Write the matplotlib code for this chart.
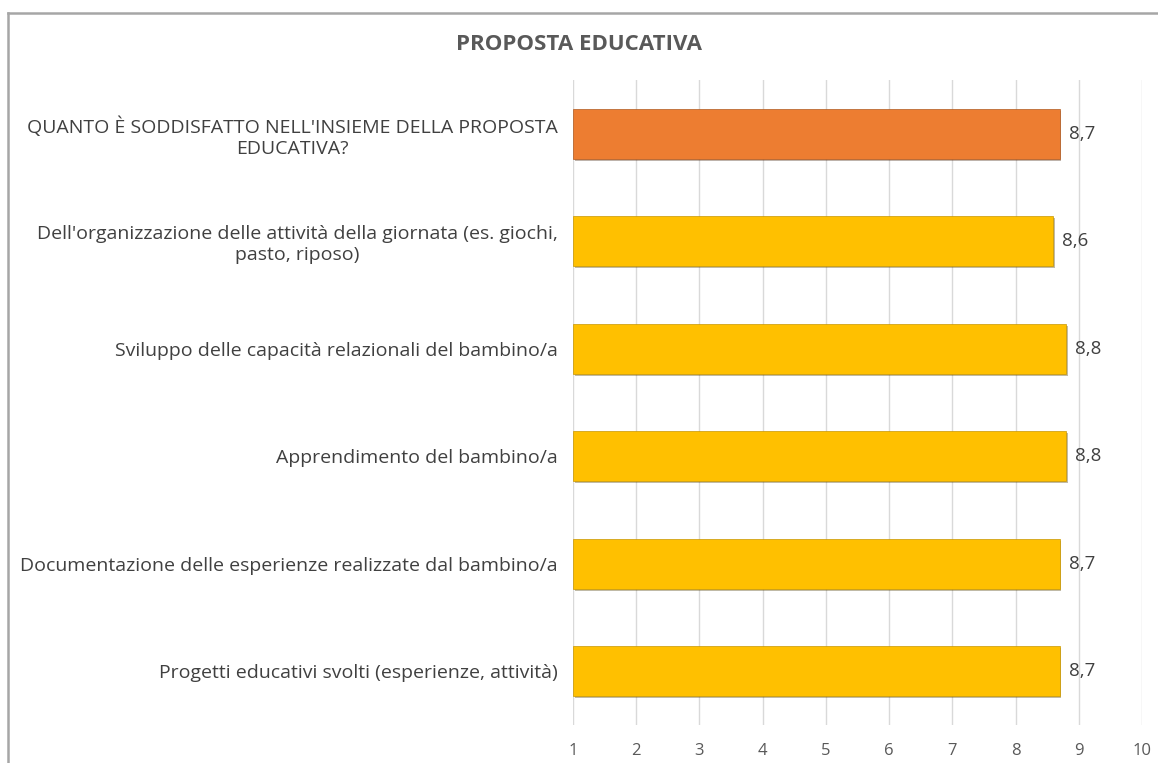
import matplotlib.pyplot as plt
import matplotlib.patheffects as pe
from matplotlib.lines import Line2D

categories = [
    "QUANTO È SODDISFATTO NELL'INSIEME DELLA PROPOSTA\nEDUCATIVA?",
    "Dell'organizzazione delle attività della giornata (es. giochi,\npasto, riposo)",
    "Sviluppo delle capacità relazionali del bambino/a",
    "Apprendimento del bambino/a",
    "Documentazione delle esperienze realizzate dal bambino/a",
    "Progetti educativi svolti (esperienze, attività)",
]
values = [8.7, 8.6, 8.8, 8.8, 8.7, 8.7]
colors = ["#ED7D31", "#FFC000", "#FFC000", "#FFC000", "#FFC000", "#FFC000"]
ticks = list(range(1, 11))

plt.rcParams['font.family'] = ['Open Sans', 'DejaVu Sans']

fig = plt.figure(figsize=(11.58, 7.63), dpi=100)
ax = fig.add_axes([573 / 1158, 1 - 725 / 763, (1142 - 573) / 1158, (725 - 80) / 763])

pos = list(range(len(categories)))
widths = [v - 1 for v in values]
bars = ax.barh(pos, widths, left=1, height=0.465, color=colors, linewidth=0.5, zorder=3)
for b, c in zip(bars, colors):
    b.set_edgecolor("#B05A20" if c == "#ED7D31" else "#C89600")
    b.set_path_effects([pe.SimplePatchShadow(offset=(1.2, -1.5), alpha=0.35), pe.Normal()])

for p, v in zip(pos, values):
    ax.text(v + 0.14, p, f"{v:.1f}".replace(".", ","), va="center", ha="left",
            fontsize=13.5, color="#404040")

ax.set_xlim(1, 10)
ax.set_ylim(len(categories) - 0.5, -0.5)
ax.set_xticks(ticks)
ax.set_xticklabels([str(t) for t in ticks], fontsize=12, color="#595959")
ax.set_yticks(pos)
ax.set_yticklabels(categories, fontsize=14, color="#404040", multialignment="center")
ax.tick_params(axis="both", length=0)
ax.tick_params(axis="y", pad=11)
ax.tick_params(axis="x", pad=13)
ax.grid(axis="x", color="#D9D9D9", linewidth=1, zorder=0)
for s in ax.spines.values():
    s.set_visible(False)

fig.text(0.5, 1 - 45 / 763, "PROPOSTA EDUCATIVA", ha="center", va="center",
         fontsize=16, fontweight="bold", color="#595959")

# chart border (cropped on right and bottom)
fig.add_artist(Line2D([8 / 1158, 8 / 1158], [0, 1 - 13 / 763], color="#A6A6A6", linewidth=1.8))
fig.add_artist(Line2D([8 / 1158, 1], [1 - 13 / 763, 1 - 13 / 763], color="#A6A6A6", linewidth=1.8))

fig.savefig("out.png", dpi=100)
